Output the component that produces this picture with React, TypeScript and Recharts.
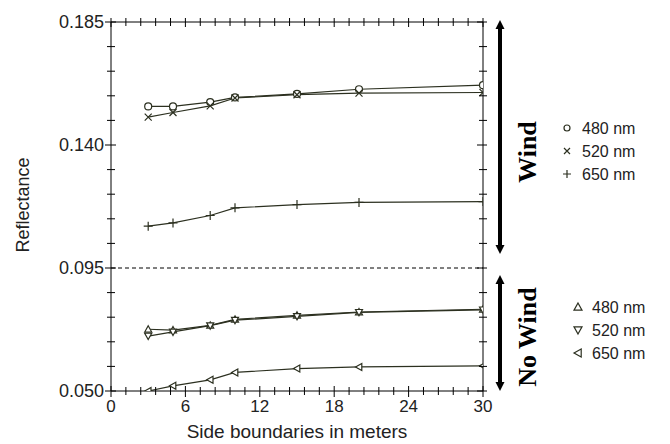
import React from "react";
import { LineChart, Line, XAxis, YAxis, ReferenceLine } from "recharts";

const xValues = [3, 5, 8, 10, 15, 20, 30];
const wind480 = [0.1541, 0.1541, 0.1557, 0.1574, 0.1587, 0.1604, 0.1619];
const wind520 = [0.1502, 0.1519, 0.1543, 0.1572, 0.1584, 0.159, 0.1592];
const wind650 = [0.1103, 0.1115, 0.1142, 0.117, 0.1182, 0.119, 0.1193];
const noWind480 = [0.0726, 0.0723, 0.074, 0.0762, 0.0777, 0.0789, 0.0799];
const noWind520 = [0.0701, 0.0716, 0.0739, 0.0759, 0.0773, 0.0788, 0.0797];
const noWind650 = [0.05, 0.0519, 0.0541, 0.0568, 0.0582, 0.0588, 0.0592];

const xMajorTicks = [0, 6, 12, 18, 24, 30];
const yMajorTicks = [0.05, 0.095, 0.14, 0.185];
const yTickLabels = ["0.050", "0.095", "0.140", "0.185"];
const xMinorTicks = Array.from({ length: 26 }, (_, i) => +(i * 1.2).toFixed(1));
const yMinorTicks = Array.from({ length: 16 }, (_, i) => +(0.05 + i * 0.009).toFixed(3));
const legendLabels = ["480 nm", "520 nm", "650 nm"];

const data = xValues.map((x, i) => ({
  x,
  w480: wind480[i],
  w520: wind520[i],
  w650: wind650[i],
  n480: noWind480[i],
  n520: noWind520[i],
  n650: noWind650[i],
}));

const LC = "#2c3020";
const FONT = "'Liberation Sans', Arial, sans-serif";

type Kind = "circle" | "x" | "plus" | "up" | "down" | "left";

function markerPath(kind: Kind, cx: number, cy: number, s: number) {
  switch (kind) {
    case "x":
      return `M${cx - s},${cy - s}L${cx + s},${cy + s}M${cx - s},${cy + s}L${cx + s},${cy - s}`;
    case "plus":
      return `M${cx - s - 1},${cy}L${cx + s + 1},${cy}M${cx},${cy - s - 1}L${cx},${cy + s + 1}`;
    case "up":
      return `M${cx},${cy - s}L${cx + s},${cy + s * 0.8}L${cx - s},${cy + s * 0.8}Z`;
    case "down":
      return `M${cx},${cy + s}L${cx + s},${cy - s * 0.8}L${cx - s},${cy - s * 0.8}Z`;
    case "left":
      return `M${cx - s},${cy}L${cx + s * 0.8},${cy - s}L${cx + s * 0.8},${cy + s}Z`;
    default:
      return "";
  }
}

function Marker({ kind, cx, cy, s = 3.5 }: { kind: Kind; cx: number; cy: number; s?: number }) {
  if (kind === "circle") {
    return <circle cx={cx} cy={cy} r={s} fill="#fff" stroke={LC} strokeWidth={1.2} />;
  }
  return (
    <path
      d={markerPath(kind, cx, cy, s)}
      fill={kind === "x" || kind === "plus" ? "none" : "#fff"}
      stroke={LC}
      strokeWidth={1.2}
    />
  );
}

const makeDot = (kind: Kind) => (props: any) => {
  const { cx, cy, index } = props;
  return (
    <g key={`${kind}-${index}`}>
      <Marker kind={kind} cx={cx} cy={cy} />
    </g>
  );
};

const series: { key: string; kind: Kind }[] = [
  { key: "w480", kind: "circle" },
  { key: "w520", kind: "x" },
  { key: "w650", kind: "plus" },
  { key: "n480", kind: "up" },
  { key: "n520", kind: "down" },
  { key: "n650", kind: "left" },
];

const near = (a: number, list: number[]) => list.some((b) => Math.abs(a - b) < 1e-6);

function BottomTick(props: any) {
  const { x, y, payload } = props;
  const major = near(payload.value, xMajorTicks);
  return (
    <g>
      <line x1={x} x2={x} y1={y - (major ? 5 : 4)} y2={y + (major ? 6 : 4)} stroke="#000" />
      {major && (
        <text x={x} y={y + 8} dy="0.75em" textAnchor="middle" fontSize={17} fontFamily={FONT} fill="#222">
          {payload.value}
        </text>
      )}
    </g>
  );
}

function TopTick(props: any) {
  const { x, y, payload } = props;
  const major = near(payload.value, xMajorTicks);
  return <line x1={x} x2={x} y1={y - 4} y2={y + (major ? 5 : 4)} stroke="#000" />;
}

function LeftTick(props: any) {
  const { x, y, payload } = props;
  const idx = yMajorTicks.findIndex((b) => Math.abs(b - payload.value) < 1e-6);
  const major = idx >= 0;
  return (
    <g>
      <line x1={x - (major ? 6 : 4)} x2={x + (major ? 5 : 4)} y1={y} y2={y} stroke="#000" />
      {major && (
        <text x={x - 7} y={y} dy="0.36em" textAnchor="end" fontSize={18} fontFamily={FONT} fill="#222">
          {yTickLabels[idx]}
        </text>
      )}
    </g>
  );
}

function RightTick(props: any) {
  const { x, y, payload } = props;
  const major = near(payload.value, yMajorTicks);
  return <line x1={x - (major ? 6 : 4)} x2={x + 4} y1={y} y2={y} stroke="#000" />;
}

function DoubleArrow({ x, y1, y2 }: { x: number; y1: number; y2: number }) {
  const h = 9;
  const w = 4.5;
  return (
    <g>
      <line x1={x} y1={y1 + h - 1} x2={x} y2={y2 - h + 1} stroke="#000" strokeWidth={4} />
      <path d={`M${x},${y1}L${x + w},${y1 + h}L${x - w},${y1 + h}Z`} fill="#000" />
      <path d={`M${x},${y2}L${x + w},${y2 - h}L${x - w},${y2 - h}Z`} fill="#000" />
    </g>
  );
}

export default function App() {
  const W = 670;
  const H = 444;
  return (
    <div style={{ position: "absolute", left: 0, top: 0, width: W, height: H, background: "#fff" }}>
      <LineChart width={W} height={H} data={data} margin={{ top: 21, right: 186, bottom: 23, left: 11 }}>
        <XAxis
          xAxisId={0}
          dataKey="x"
          type="number"
          domain={[0, 30]}
          ticks={xMinorTicks}
          allowDataOverflow
          height={30}
          tickSize={0}
          tickMargin={0}
          tickLine={false}
          stroke="#000"
          interval={0}
          tick={<BottomTick />}
        />
        <XAxis
          xAxisId="t"
          orientation="top"
          dataKey="x"
          type="number"
          domain={[0, 30]}
          ticks={xMinorTicks}
          allowDataOverflow
          height={1}
          tickSize={0}
          tickMargin={0}
          tickLine={false}
          stroke="#000"
          interval={0}
          tick={<TopTick />}
        />
        <YAxis
          yAxisId={0}
          type="number"
          domain={[0.05, 0.185]}
          ticks={yMinorTicks}
          allowDataOverflow
          width={100}
          tickSize={0}
          tickMargin={0}
          tickLine={false}
          stroke="#000"
          interval={0}
          tick={<LeftTick />}
        />
        <YAxis
          yAxisId="r"
          orientation="right"
          type="number"
          domain={[0.05, 0.185]}
          ticks={yMinorTicks}
          allowDataOverflow
          width={1}
          tickSize={0}
          tickMargin={0}
          tickLine={false}
          stroke="#000"
          interval={0}
          tick={<RightTick />}
        />
        <ReferenceLine y={0.095} stroke="#000" strokeDasharray="4 3" strokeWidth={1} />
        <Line
          xAxisId="t"
          yAxisId="r"
          dataKey="w480"
          stroke="none"
          dot={false}
          activeDot={false}
          legendType="none"
          isAnimationActive={false}
        />
        {series.map((s) => (
          <Line
            key={s.key}
            dataKey={s.key}
            type="linear"
            stroke={LC}
            strokeWidth={1.2}
            dot={makeDot(s.kind)}
            activeDot={false}
            isAnimationActive={false}
          />
        ))}
      </LineChart>
      <svg width={W} height={H} style={{ position: "absolute", left: 0, top: 0, pointerEvents: "none" }}>
        <text x={297} y={438} textAnchor="middle" fontSize={19} fontFamily={FONT} fill="#222">
          Side boundaries in meters
        </text>
        <text transform="translate(29,205) rotate(-90)" textAnchor="middle" fontSize={18} fontFamily={FONT} fill="#222">
          Reflectance
        </text>
        <DoubleArrow x={500} y1={20} y2={254} />
        <DoubleArrow x={500} y1={275} y2={391} />
        <text
          transform="translate(536,152) rotate(-90)"
          textAnchor="middle"
          fontSize={26}
          fontWeight="bold"
          fontFamily="'Liberation Serif', 'Times New Roman', serif"
          fill="#000"
        >
          Wind
        </text>
        <text
          transform="translate(536,337) rotate(-90)"
          textAnchor="middle"
          fontSize={26}
          fontWeight="bold"
          fontFamily="'Liberation Serif', 'Times New Roman', serif"
          fill="#000"
        >
          No Wind
        </text>
        {(["circle", "x", "plus"] as Kind[]).map((k, i) => (
          <g key={k}>
            <Marker kind={k} cx={567} cy={128 + i * 23} s={3} />
            <text x={582} y={128 + i * 23 + 6} fontSize={16} fontFamily={FONT} fill="#222">
              {legendLabels[i]}
            </text>
          </g>
        ))}
        {(["up", "down", "left"] as Kind[]).map((k, i) => (
          <g key={k}>
            <Marker kind={k} cx={578} cy={307 + i * 23} s={4} />
            <text x={592} y={307 + i * 23 + 6} fontSize={16} fontFamily={FONT} fill="#222">
              {legendLabels[i]}
            </text>
          </g>
        ))}
      </svg>
    </div>
  );
}
